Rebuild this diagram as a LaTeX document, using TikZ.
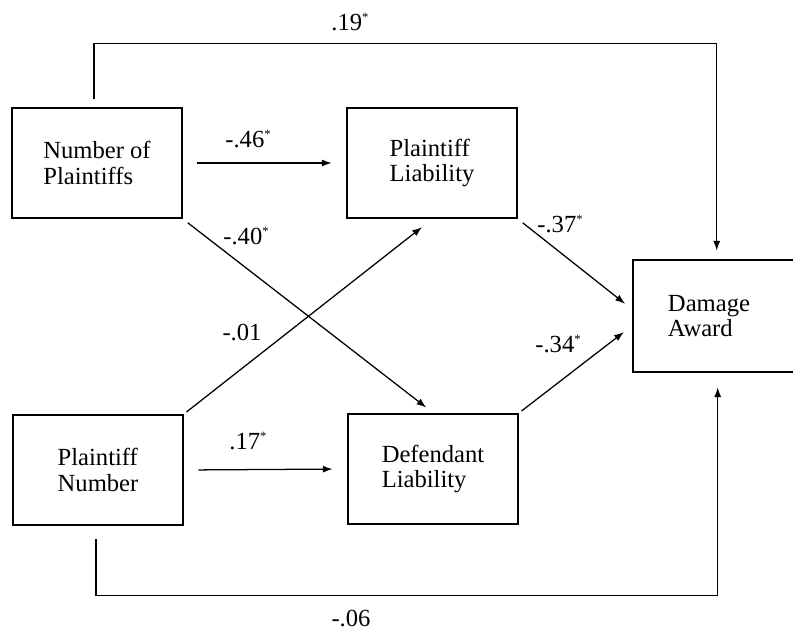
\documentclass[tikz,border=0pt]{standalone}
\usepackage{fontspec}
\setmainfont{Liberation Serif}
\usetikzlibrary{arrows.meta,calc}
\newcommand{\sig}{\raisebox{0.75ex}{\fontsize{9}{9}\selectfont *}}
\tikzset{
  var/.style={draw, line width=1.8pt, minimum width=4.25cm, minimum height=2.75cm, align=left},
  path/.style={line width=0.9pt, -{Latex[length=7pt,width=5pt]}},
  coef/.style={inner sep=1pt}
}

\begin{document}
\begin{tikzpicture}[x=0.025cm, y=-0.025cm, font=\fontsize{17.5}{18}\selectfont]
  \useasboundingbox (0,0) rectangle (793,630);

  % Variables
  \node[var] (nop) at (97,163) {Number of\\Plaintiffs};
  \node[var] (pl) at (432,163) {Plaintiff\\Liability};
  \node[var] (pn) at (98,470) {Plaintiff\\Number};
  \node[var] (dl) at (433,469) {Defendant\\Liability};
  \node[var, minimum height=2.8cm, text width=3.25cm, inner xsep=0.875cm] (da) at (733,316) {Damage\\Award};

  % Paths
  \draw[path, shorten <=10pt, shorten >=10pt] (nop.east) -- (pl.west);
  \draw[path, shorten <=10pt, shorten >=10pt] (pn.east) -- (dl.west);
  \draw[path, shorten <=4pt, shorten >=6pt] (nop.south east) -- (dl.north);
  \draw[path, shorten <=2pt, shorten >=9pt] (pn.north east) -- (pl.south);
  \draw[path, shorten <=4pt, shorten >=6pt] (pl.south east) -- ($(da.west)+(0,-7)$);
  \draw[path, shorten <=2pt, shorten >=7pt] (dl.north east) -- ($(da.west)+(0,10)$);
  \draw[path] ($(nop.north)+(-3,-8)$) -- ++(0,-55) -| ($(da.north west)+(85,-8)$);
  \draw[path] ($(pn.south)+(-2,13)$) -- ++(0,56) -| ($(da.south west)+(86,14)$);

  % Coefficients
  \node[coef] (c1) at (350,22) {.19\sig};
  \node[coef] (c2) at (248,139) {-.46\sig};
  \node[coef] (c3) at (246,236) {-.40\sig};
  \node[coef] (c4) at (560,224) {-.37\sig};
  \node[coef] (c5) at (242,332) {-.01};
  \node[coef] (c6) at (558,344) {-.34\sig};
  \node[coef] (c7) at (248,441) {.17\sig};
  \node[coef] (c8) at (351,618) {-.06};
\end{tikzpicture}
\end{document}
